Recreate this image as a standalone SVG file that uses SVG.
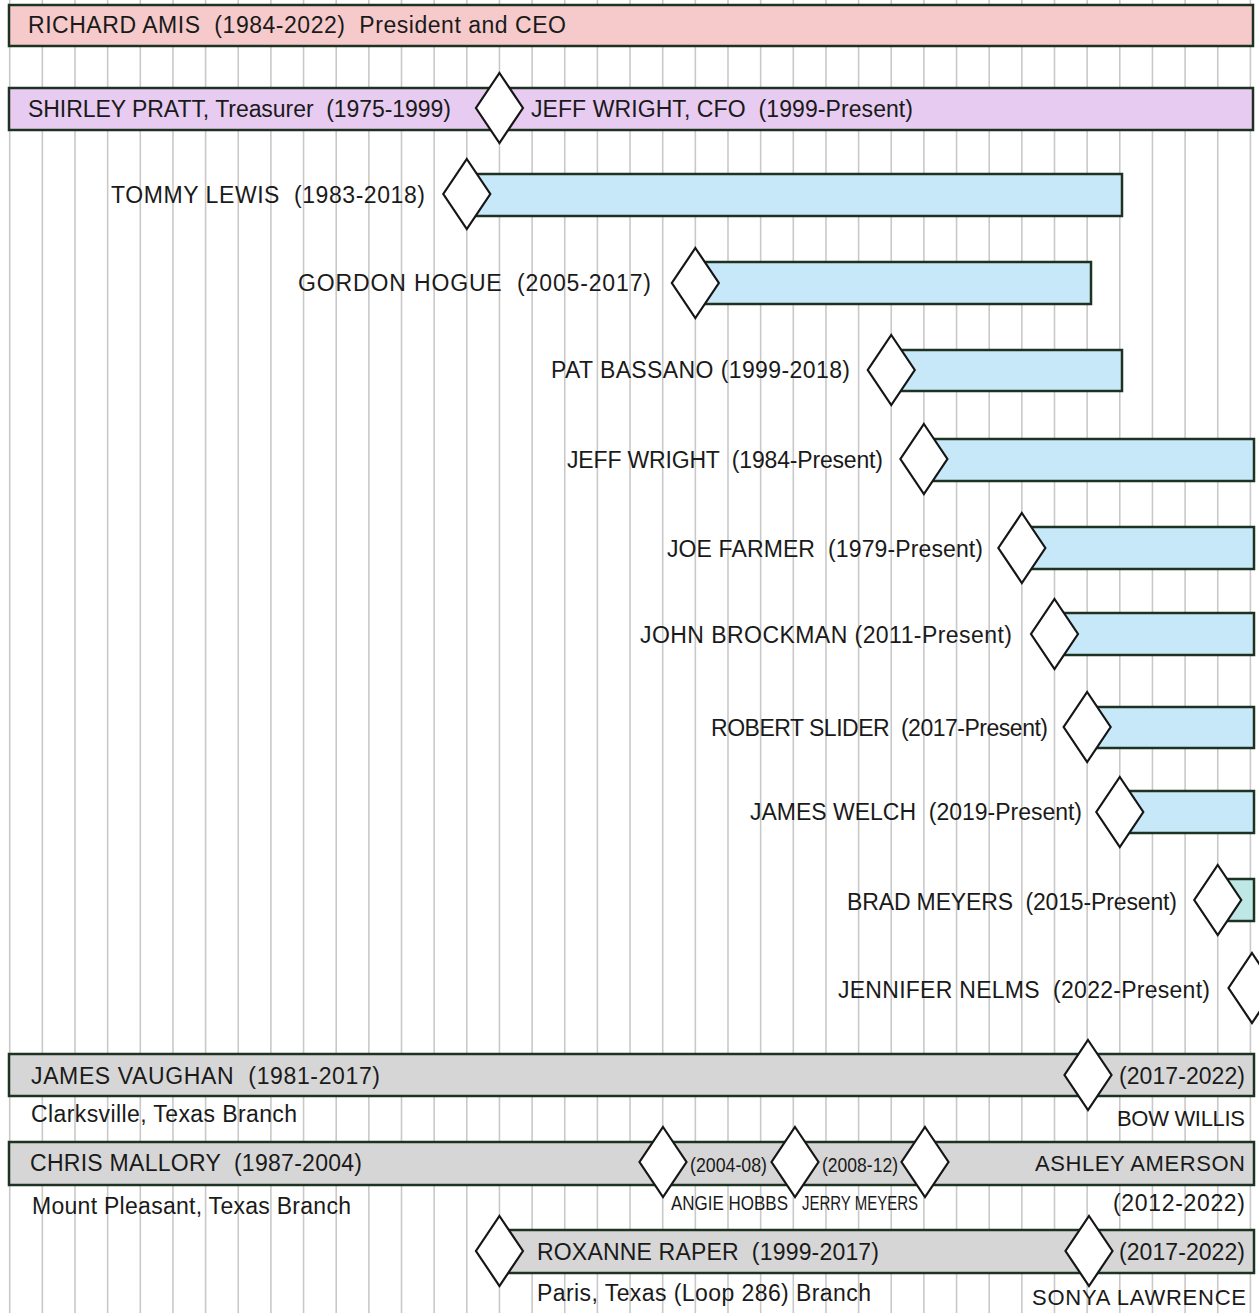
<svg xmlns="http://www.w3.org/2000/svg" xmlns:xlink="http://www.w3.org/1999/xlink" width="1259" height="1313" viewBox="0 0 1259 1313">
  <style>
    .grid line { stroke: #c9c9c9; stroke-width: 1.6; }
    .bar { stroke: #1d3221; stroke-width: 2.5; }
    .ceo { fill: #f6caca; }
    .fin { fill: #e7cbf1; }
    .staff { fill: #c6e8f8; }
    .branch { fill: #d6d6d6; }
    .dia { fill: #ffffff; stroke: #161616; stroke-width: 2.2; stroke-linejoin: miter; }
    text { font-family: "Liberation Sans", Arial, sans-serif; font-size: 23px; fill: #1a1a1a; }
    text.sm { font-size: 21px; }
    text.caps { font-size: 22px; }
  </style>
  <defs>
    <path id="dia" d="M0,-35 L23.5,0 L0,35 L-23.5,0 Z"/>
  </defs>

  <rect x="0" y="0" width="1259" height="1313" fill="#ffffff"/>

  <!-- year grid -->
  <g id="grid" class="grid">
    <line x1="9.7" y1="0" x2="9.7" y2="1313"/>
    <line x1="42.35" y1="0" x2="42.35" y2="1313"/>
    <line x1="75" y1="0" x2="75" y2="1313"/>
    <line x1="107.65" y1="0" x2="107.65" y2="1313"/>
    <line x1="140.3" y1="0" x2="140.3" y2="1313"/>
    <line x1="172.95" y1="0" x2="172.95" y2="1313"/>
    <line x1="205.6" y1="0" x2="205.6" y2="1313"/>
    <line x1="238.25" y1="0" x2="238.25" y2="1313"/>
    <line x1="270.9" y1="0" x2="270.9" y2="1313"/>
    <line x1="303.55" y1="0" x2="303.55" y2="1313"/>
    <line x1="336.2" y1="0" x2="336.2" y2="1313"/>
    <line x1="368.85" y1="0" x2="368.85" y2="1313"/>
    <line x1="401.5" y1="0" x2="401.5" y2="1313"/>
    <line x1="434.15" y1="0" x2="434.15" y2="1313"/>
    <line x1="466.8" y1="0" x2="466.8" y2="1313"/>
    <line x1="499.45" y1="0" x2="499.45" y2="1313"/>
    <line x1="532.1" y1="0" x2="532.1" y2="1313"/>
    <line x1="564.75" y1="0" x2="564.75" y2="1313"/>
    <line x1="597.4" y1="0" x2="597.4" y2="1313"/>
    <line x1="630.05" y1="0" x2="630.05" y2="1313"/>
    <line x1="662.7" y1="0" x2="662.7" y2="1313"/>
    <line x1="695.35" y1="0" x2="695.35" y2="1313"/>
    <line x1="728" y1="0" x2="728" y2="1313"/>
    <line x1="760.65" y1="0" x2="760.65" y2="1313"/>
    <line x1="793.3" y1="0" x2="793.3" y2="1313"/>
    <line x1="825.95" y1="0" x2="825.95" y2="1313"/>
    <line x1="858.6" y1="0" x2="858.6" y2="1313"/>
    <line x1="891.25" y1="0" x2="891.25" y2="1313"/>
    <line x1="923.9" y1="0" x2="923.9" y2="1313"/>
    <line x1="956.55" y1="0" x2="956.55" y2="1313"/>
    <line x1="989.2" y1="0" x2="989.2" y2="1313"/>
    <line x1="1021.85" y1="0" x2="1021.85" y2="1313"/>
    <line x1="1054.5" y1="0" x2="1054.5" y2="1313"/>
    <line x1="1087.15" y1="0" x2="1087.15" y2="1313"/>
    <line x1="1119.8" y1="0" x2="1119.8" y2="1313"/>
    <line x1="1152.45" y1="0" x2="1152.45" y2="1313"/>
    <line x1="1185.1" y1="0" x2="1185.1" y2="1313"/>
    <line x1="1217.75" y1="0" x2="1217.75" y2="1313"/>
    <line x1="1250.4" y1="0" x2="1250.4" y2="1313"/>
  </g>

  <!-- no connectors: transitions are marked by the diamonds on each bar -->
  <g id="connectors"/>

  <g id="node-amis">
    <rect class="bar ceo" x="9" y="5" width="1244" height="41"/>
    <text x="28" y="33" textLength="538" xml:space="preserve">RICHARD AMIS  (1984-2022)  President and CEO</text>
  </g>

  <g id="node-treasurer">
    <rect class="bar fin" x="9" y="88" width="1244" height="42"/>
    <text x="28" y="117" textLength="423" xml:space="preserve">SHIRLEY PRATT, Treasurer  (1975-1999)</text>
    <use href="#dia" class="dia" x="499.45" y="108"/>
    <text x="531" y="117" textLength="382" xml:space="preserve">JEFF WRIGHT, CFO  (1999-Present)</text>
  </g>

  <g id="node-lewis">
    <rect class="bar staff" x="467" y="174" width="655" height="42"/>
    <use href="#dia" class="dia" x="466.8" y="194"/>
    <text x="111" y="203" textLength="314" xml:space="preserve">TOMMY LEWIS  (1983-2018)</text>
  </g>

  <g id="node-hogue">
    <rect class="bar staff" x="695" y="262" width="396" height="42"/>
    <use href="#dia" class="dia" x="695.35" y="283"/>
    <text x="298" y="291" textLength="353" xml:space="preserve">GORDON HOGUE  (2005-2017)</text>
  </g>

  <g id="node-bassano">
    <rect class="bar staff" x="891" y="350" width="231" height="41"/>
    <use href="#dia" class="dia" x="891.25" y="370"/>
    <text x="551" y="378" textLength="299" xml:space="preserve">PAT BASSANO (1999-2018)</text>
  </g>

  <g id="node-wright">
    <rect class="bar staff" x="924" y="439" width="330" height="42"/>
    <use href="#dia" class="dia" x="923.9" y="459"/>
    <text x="567" y="468" textLength="316" xml:space="preserve">JEFF WRIGHT  (1984-Present)</text>
  </g>

  <g id="node-farmer">
    <rect class="bar staff" x="1022" y="527" width="232" height="42"/>
    <use href="#dia" class="dia" x="1021.85" y="548"/>
    <text x="667" y="557" textLength="316" xml:space="preserve">JOE FARMER  (1979-Present)</text>
  </g>

  <g id="node-brockman">
    <rect class="bar staff" x="1054" y="613" width="200" height="42"/>
    <use href="#dia" class="dia" x="1054.5" y="634"/>
    <text x="640" y="643" textLength="372" xml:space="preserve">JOHN BROCKMAN (2011-Present)</text>
  </g>

  <g id="node-slider">
    <rect class="bar staff" x="1087" y="707" width="167" height="41"/>
    <use href="#dia" class="dia" x="1087.15" y="727"/>
    <text x="711" y="736" textLength="337" xml:space="preserve">ROBERT SLIDER  (2017-Present)</text>
  </g>

  <g id="node-welch">
    <rect class="bar staff" x="1120" y="791" width="134" height="42"/>
    <use href="#dia" class="dia" x="1119.8" y="812"/>
    <text x="750" y="820" textLength="332" xml:space="preserve">JAMES WELCH  (2019-Present)</text>
  </g>

  <g id="node-meyers">
    <rect class="bar staff" x="1218" y="879" width="36" height="42" style="fill:#bfe7e6"/>
    <use href="#dia" class="dia" x="1217.75" y="900"/>
    <text x="847" y="910" textLength="330" xml:space="preserve">BRAD MEYERS  (2015-Present)</text>
  </g>

  <g id="node-nelms">
    <use href="#dia" class="dia" x="1252" y="988"/>
    <text x="838" y="998" textLength="372" xml:space="preserve">JENNIFER NELMS  (2022-Present)</text>
  </g>

  <g id="node-clarksville">
    <rect class="bar branch" x="9" y="1054" width="1245" height="42"/>
    <text x="31" y="1084" textLength="349" xml:space="preserve">JAMES VAUGHAN  (1981-2017)</text>
    <use href="#dia" class="dia" x="1088" y="1075"/>
    <text x="1119" y="1084" textLength="126">(2017-2022)</text>
    <text x="31" y="1122" textLength="266">Clarksville, Texas Branch</text>
    <text class="caps" x="1117" y="1126" textLength="128">BOW WILLIS</text>
  </g>

  <g id="node-mount-pleasant">
    <rect class="bar branch" x="9" y="1142" width="1245" height="43"/>
    <text x="30" y="1171" textLength="332" xml:space="preserve">CHRIS MALLORY  (1987-2004)</text>
    <use href="#dia" class="dia" x="663" y="1162"/>
    <use href="#dia" class="dia" x="795" y="1162"/>
    <use href="#dia" class="dia" x="925" y="1162"/>
    <text class="sm" x="690" y="1172" textLength="77" lengthAdjust="spacingAndGlyphs">(2004-08)</text>
    <text class="sm" x="822" y="1172" textLength="76" lengthAdjust="spacingAndGlyphs">(2008-12)</text>
    <text class="caps" x="1035" y="1171" textLength="210">ASHLEY AMERSON</text>
    <text x="32" y="1214" textLength="319">Mount Pleasant, Texas Branch</text>
    <text class="sm" x="671" y="1210" textLength="117" lengthAdjust="spacingAndGlyphs">ANGIE HOBBS</text>
    <text class="sm" x="802" y="1210" textLength="116" lengthAdjust="spacingAndGlyphs">JERRY MEYERS</text>
    <text x="1113" y="1211" textLength="132">(2012-2022)</text>
  </g>

  <g id="node-paris">
    <rect class="bar branch" x="499" y="1230" width="755" height="43"/>
    <use href="#dia" class="dia" x="499.45" y="1251"/>
    <text x="537" y="1260" textLength="342" xml:space="preserve">ROXANNE RAPER  (1999-2017)</text>
    <use href="#dia" class="dia" x="1089" y="1251"/>
    <text x="1119" y="1260" textLength="126">(2017-2022)</text>
    <text x="537" y="1301" textLength="334">Paris, Texas (Loop 286) Branch</text>
    <text class="caps" x="1032" y="1305" textLength="214">SONYA LAWRENCE</text>
  </g>
</svg>
